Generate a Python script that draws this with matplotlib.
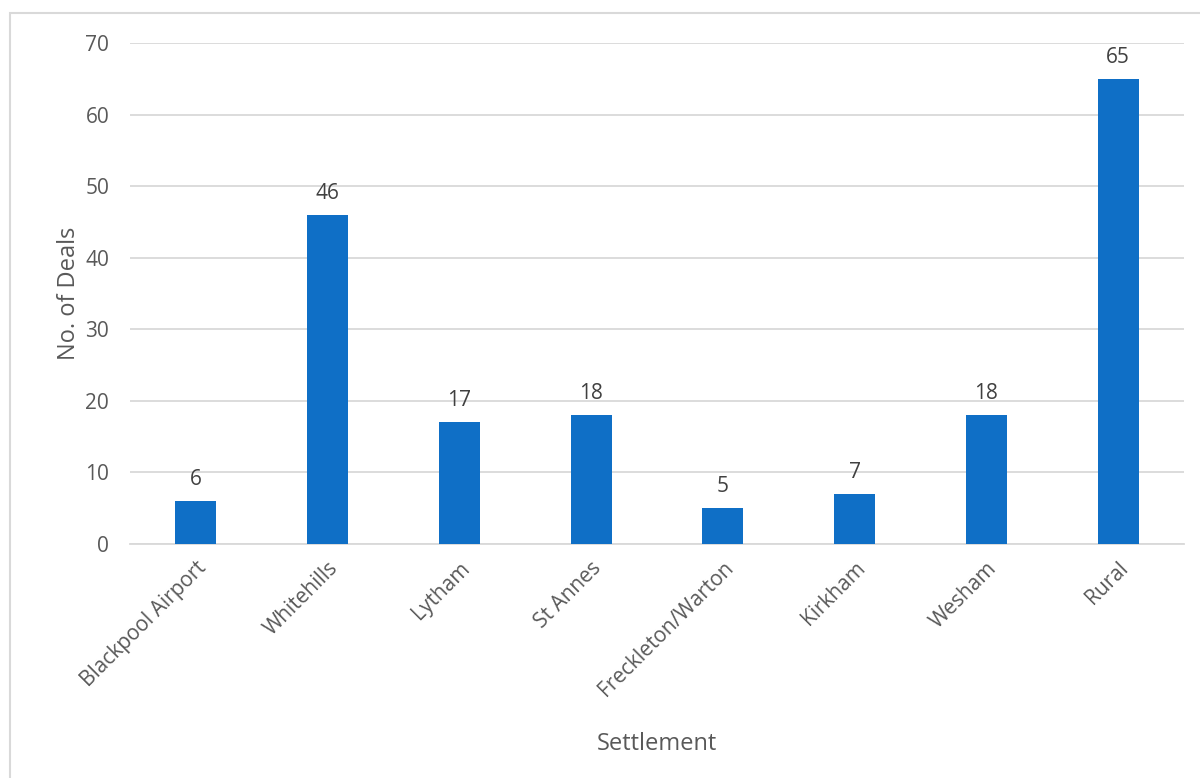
import matplotlib.pyplot as plt
from matplotlib.patches import Rectangle

# Deals per settlement
settlements = ["Blackpool Airport", "Whitehills", "Lytham", "St Annes",
               "Freckleton/Warton", "Kirkham", "Wesham", "Rural"]
deals = [6, 46, 17, 18, 5, 7, 18, 65]

plt.rcParams["font.family"] = ["Open Sans", "DejaVu Sans"]

fig = plt.figure(figsize=(12, 7.78), dpi=100)
ax = fig.add_axes([0.1083, 0.3008, 0.8784, 0.6439])

x = range(len(settlements))
bars = ax.bar(x, deals, width=0.31, color="#0F6FC6", zorder=3)

for xi, v in zip(x, deals):
    ax.annotate(str(v), (xi, v), xytext=(0, 8), textcoords="offset points",
                ha="center", va="bottom", fontsize=15, color="#404040")

ax.set_xlim(-0.5, len(settlements) - 0.5)
ax.set_ylim(0, 70)
ax.set_yticks(range(0, 71, 10))
ax.set_xticks(list(x))
ax.set_xticklabels(settlements, rotation=45, ha="right", rotation_mode="anchor")

ax.grid(axis="y", color="#D9D9D9", linewidth=1.3, zorder=0)
for side in ["top", "right", "left"]:
    ax.spines[side].set_visible(False)
ax.spines["bottom"].set_color("#D9D9D9")
ax.spines["bottom"].set_linewidth(1.3)
ax.tick_params(axis="both", length=0, labelsize=15, labelcolor="#595959")
ax.tick_params(axis="y", pad=15)
ax.tick_params(axis="x", pad=10)

ax.set_xlabel("Settlement", fontsize=17, color="#595959", labelpad=22)
ax.set_ylabel("No. of Deals", fontsize=17, color="#595959", labelpad=3)

# chart-area border, open to the right and bottom
fig.patches.append(Rectangle((10 / 1200, -0.1), 1.2, 1.1 - 13 / 778,
                             transform=fig.transFigure, fill=False,
                             edgecolor="#D9D9D9", linewidth=1.5))

fig.savefig("out.png", dpi=100)
